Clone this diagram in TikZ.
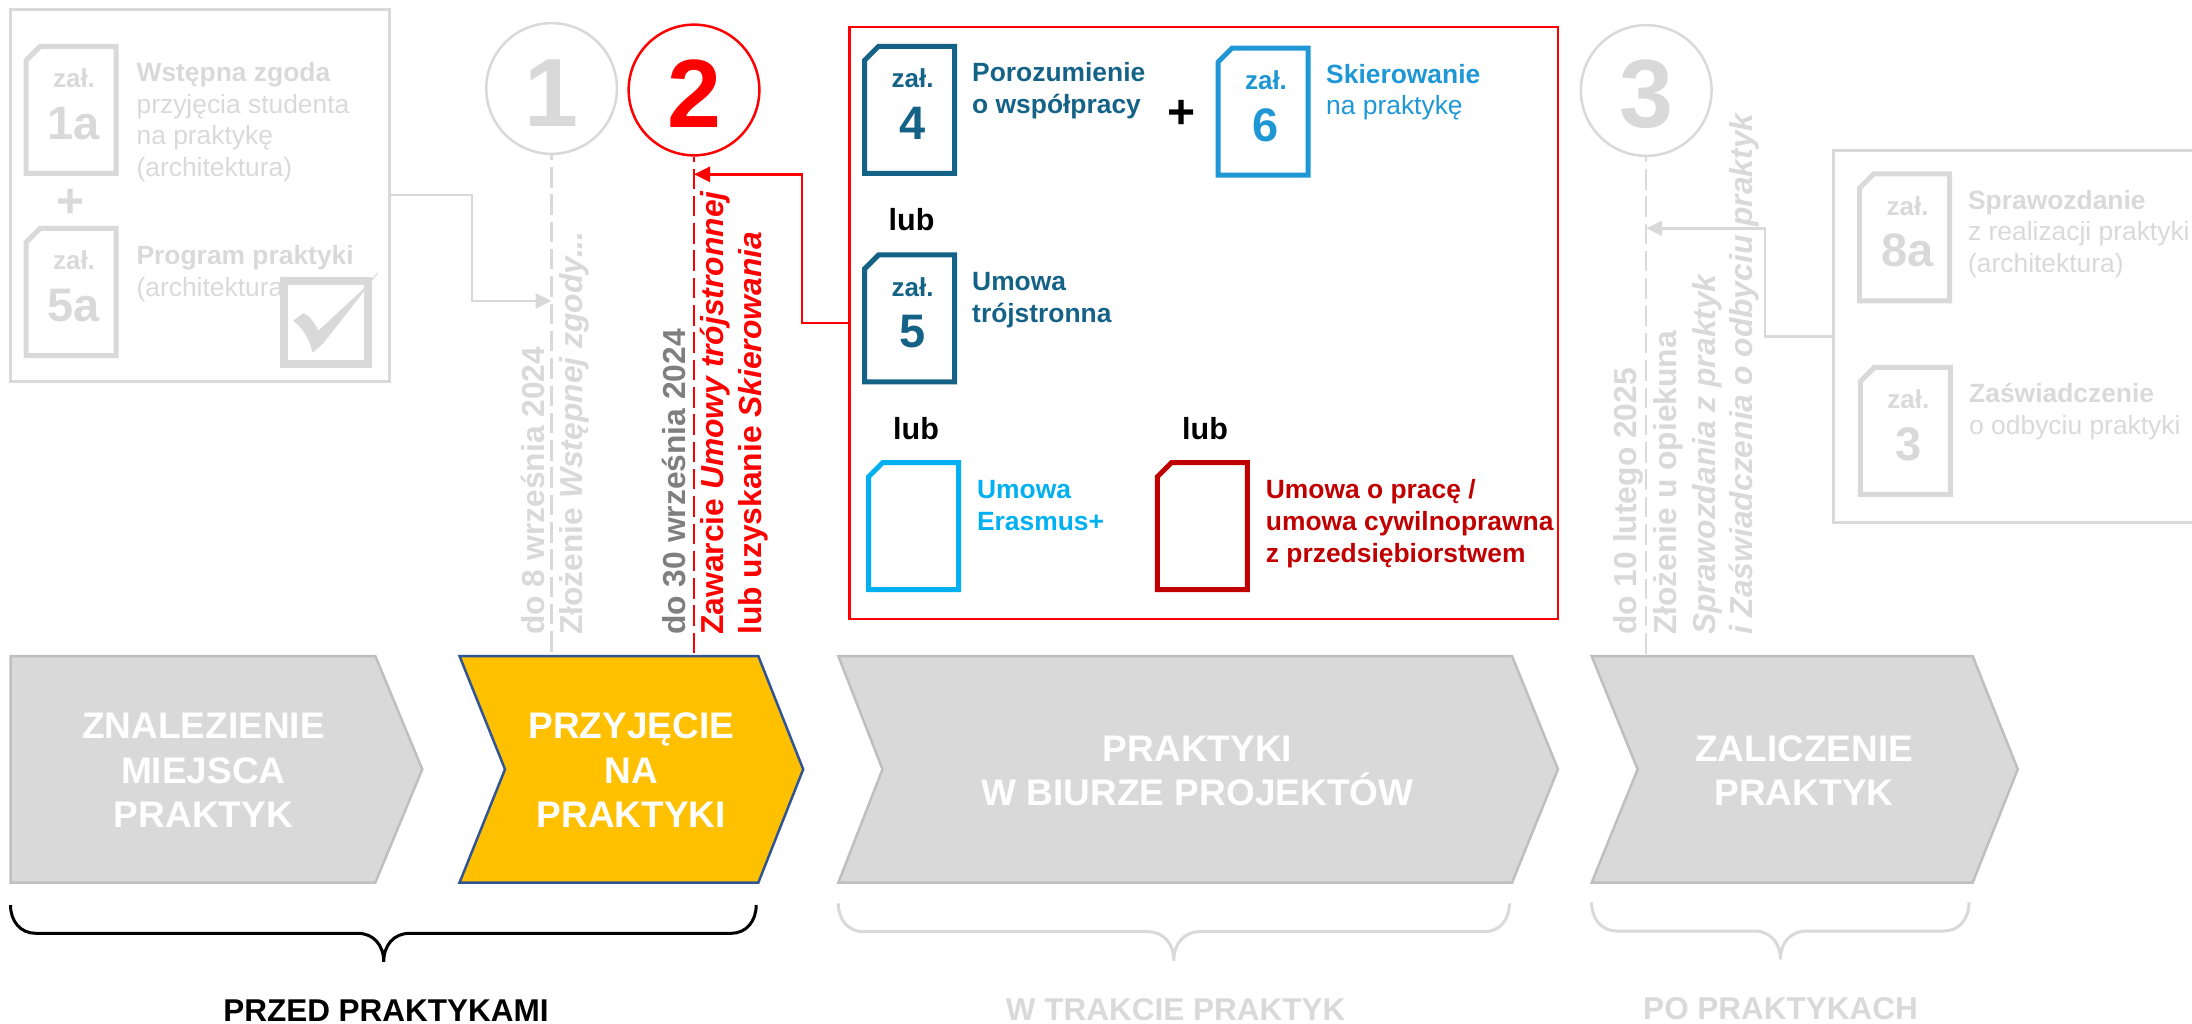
\documentclass[tikz,border=0pt]{standalone}
\usepackage{fontspec}
\setmainfont{Liberation Sans}
\usetikzlibrary{arrows.meta}
\definecolor{lgray}{HTML}{D9D9D9}
\definecolor{mgray}{HTML}{BFBFBF}
\definecolor{dgray}{HTML}{7F7F7F}
\definecolor{zalblue}{HTML}{156287}
\definecolor{skyblue}{HTML}{2097D5}
\definecolor{erasblue}{HTML}{00B0F0}
\definecolor{darkred}{HTML}{C00000}
\definecolor{goldfill}{HTML}{FFC000}
\definecolor{goldline}{HTML}{2F5597}
\newcommand{\docshape}[3]{\draw[docline,draw=#3] (#1-45,#2-49.5) -- (#1-31,#2-63.5) -- (#1+45,#2-63.5) -- (#1+45,#2+63.5) -- (#1-45,#2+63.5) -- cycle;}
\begin{document}
\begin{tikzpicture}[x=1pt,y=-1pt,
  docline/.style={line width=5pt},
  zaltxt/.style={anchor=base,inner sep=0pt,font=\fontsize{26}{30}\selectfont\bfseries},
  numtxt/.style={anchor=base,inner sep=0pt,font=\fontsize{47}{50}\selectfont\bfseries},
  body/.style={anchor=base west,align=left,inner sep=0pt,font=\fontsize{26.4}{31.7}\selectfont},
  lubtxt/.style={anchor=base,inner sep=0pt,font=\fontsize{30.5}{34}\selectfont\bfseries},
  plustxt/.style={inner sep=0pt,font=\fontsize{48}{50}\selectfont\bfseries},
  vert/.style={rotate=90,anchor=base west,inner sep=0pt,font=\fontsize{31.8}{36}\selectfont\bfseries},
  frame/.style={shape=rectangle,draw=lgray,line width=3pt,inner sep=0pt},
  numcircle/.style={shape=circle,draw=lgray,line width=2.5pt,fill=white,minimum size=130.7pt,inner sep=0pt,text height=76pt,font=\fontsize{97}{100}\selectfont\bfseries},
  dashline/.style={draw=lgray,line width=2.5pt,dash pattern=on 20.5pt off 6.8pt,dash phase=15.3pt},
  elbow/.style={draw=lgray,line width=2.5pt,-{Triangle[length=16pt,width=15pt]}},
  chev/.style={fill=lgray,draw=mgray,line width=2.5pt},
  chevtxt/.style={anchor=base,align=center,inner sep=0pt,text=white,font=\fontsize{37}{44.7}\selectfont\bfseries},
  brace/.style={draw=lgray,line width=3pt},
  phase/.style={anchor=base,inner sep=0pt,text=lgray,font=\fontsize{31.5}{34}\selectfont\bfseries}]
  \path[use as bounding box,clip] (0,0) rectangle (2192,1024);

  % frames
  \node[frame,minimum width=378.8pt,minimum height=371.7pt] (lbox) at (200.1,195.2) {};
  \node[frame,minimum width=377pt,minimum height=372pt] (rbox) at (2021.5,336.6) {};
  \node[frame,draw=red,line width=2.5pt,minimum width=708.6pt,minimum height=592pt] (mbox) at (1203.7,323) {};

  % documents
  \foreach \name/\x/\y/\col/\num in {z1a/71/110/lgray/1a,z5a/71/292/lgray/5a,z8a/1904.6/237.5/lgray/8a,z3/1905.4/430.8/lgray/3,z4/909.6/109.8/zalblue/4,z6/1263/111.6/skyblue/6,z5/909.6/318.4/zalblue/5}{
    \docshape{\x}{\y}{\col}
    \node[zaltxt,text=\col] (\name lab) at (\x+3,\y-22) {zał.};
    \node[numtxt,text=\col] (\name num) at (\x+3,\y+29.5) {\num};
  }
  \docshape{913.6}{526.2}{erasblue}
  \docshape{1202.4}{526.2}{darkred}

  % left group
  \node[body,text=lgray] (t1a) at (136.4,176.7) {\textbf{Wstępna zgoda}\\przyjęcia studenta\\na praktykę\\(architektura)};
  \node[plustxt,text=lgray] (plus1) at (71,203) {+};
  \node[body,text=lgray] (t5a) at (136.4,296.7) {\textbf{Program praktyki}\\(architektura)};
  \node[shape=rectangle,draw=lgray,fill=white,line width=8pt,minimum size=83.7pt,inner sep=0pt] (chk) at (326,322.5) {};
  \fill[lgray] (293.3,320.7) -- (303.3,313.3) .. controls (309,315) and (314,322) .. (318.3,330.7) -- (363,289.3) -- (378.3,271.7) -- (376.7,275) -- (323.3,343.3) -- (312.7,352.7) .. controls (308,335) and (302,328) .. (293.3,320.7) -- cycle;

  % middle group
  \node[body,text=zalblue] (t4) at (972,113.7) {\textbf{Porozumienie}\\\textbf{o współpracy}};
  \node[plustxt] (plus2) at (1181.7,114.8) {+};
  \node[body,text=skyblue] (t6) at (1326,115) {\textbf{Skierowanie}\\na praktykę};
  \node[lubtxt] (lub1) at (911.5,230.6) {lub};
  \node[body,text=zalblue] (t5) at (972,322.4) {\textbf{Umowa}\\\textbf{trójstronna}};
  \node[lubtxt] (lub2) at (916,439) {lub};
  \node[lubtxt] (lub3) at (1205,439) {lub};
  \node[body,text=erasblue] (teras) at (976.9,530.5) {\textbf{Umowa}\\\textbf{Erasmus+}};
  \node[body,text=darkred] (tprac) at (1265.7,562) {\textbf{Umowa o pracę /}\\\textbf{umowa cywilnoprawna}\\\textbf{z przedsiębiorstwem}};

  % right group
  \node[body,text=lgray] (t8a) at (1967.9,272.7) {\textbf{Sprawozdanie}\\z realizacji praktyki\\(architektura)};
  \node[body,text=lgray] (t3) at (1969,434.6) {\textbf{Zaświadczenie}\\o odbyciu praktyki};

  % steps
  \coordinate (top1) at (551.6,656);
  \coordinate (top2) at (694,656);
  \coordinate (top3) at (1646.2,656);
  \coordinate (hit1) at (551.6,301);
  \coordinate (hit2) at (694,174.3);
  \coordinate (hit3) at (1646.2,228.3);
  \node[numcircle,text=lgray] (c1) at (551.6,88.5) {1};
  \node[numcircle,draw=red,text=red] (c2) at (694,90) {2};
  \node[numcircle,text=lgray] (c3) at (1646.2,90.5) {3};
  \path[dashline] (c1) -- (top1);
  \path[dashline,draw=red] (c2) -- (top2);
  \path[dashline] (c3) -- (top3);
  \path[elbow] (lbox.east) -- ++(81,0) |- (hit1);
  \path[elbow,draw=red] (mbox.west) -- ++(-46,0) |- (hit2);
  \path[elbow] (rbox.west) -- ++(-66.6,0) |- (hit3);

  % deadlines
  \node[vert,text=lgray] (d1) at (544,635) {do 8 września 2024};
  \node[vert,text=lgray] (n1) at (582.7,635) {Złożenie \textit{Wstępnej zgody...}};
  \node[vert,text=dgray] (d2) at (685,635) {do 30 września 2024};
  \node[vert,text=red] (n2a) at (723,635) {Zawarcie \textit{Umowy trójstronnej}};
  \node[vert,text=red] (n2b) at (761.7,635) {lub uzyskanie \textit{Skierowania}};
  \node[vert,text=lgray] (d3) at (1636.6,635) {do 10 lutego 2025};
  \node[vert,text=lgray] (n3a) at (1676,635) {Złożenie u opiekuna};
  \node[vert,text=lgray] (n3b) at (1715,635) {\textit{Sprawozdania z praktyk}};
  \node[vert,text=lgray] (n3c) at (1752.7,635) {\textit{i Zaświadczenia o odbyciu praktyk}};

  % chevrons
  \draw[chev] (10.5,656) -- (375.3,656) -- (422.3,769.3) -- (375.3,882.7) -- (10.5,882.7) -- cycle;
  \draw[chev,fill=goldfill,draw=goldline] (459.5,656) -- (758.3,656) -- (803.2,769.3) -- (758.3,882.7) -- (459.5,882.7) -- (505,769.3) -- cycle;
  \draw[chev] (838.3,656) -- (1512,656) -- (1558,769.3) -- (1512,882.7) -- (838.3,882.7) -- (882.5,769.3) -- cycle;
  \draw[chev] (1591.6,656) -- (1972.6,656) -- (2017.8,769.3) -- (1972.6,882.7) -- (1591.6,882.7) -- (1637.6,769.3) -- cycle;
  \node[chevtxt] (s1) at (203.4,827.7) {ZNALEZIENIE\\MIEJSCA\\PRAKTYK};
  \node[chevtxt] (s2) at (631.4,827.7) {PRZYJĘCIE\\NA\\PRAKTYKI};
  \node[chevtxt] (s3) at (1197.5,805.7) {PRAKTYKI\\W BIURZE PROJEKTÓW};
  \node[chevtxt] (s4) at (1804,805.7) {ZALICZENIE\\PRAKTYK};

  % braces
  \foreach \xa/\xm/\xb/\ya/\yb/\yc/\col in {10.5/383.7/756.2/905/933.3/961.7/black,838.3/1173.8/1509.5/903.3/931.7/960.7/lgray,1591.6/1780.4/1969/902.3/931/959.3/lgray}{
    \draw[brace,draw=\col] (\xa,\ya) .. controls (\xa,\yb-12) and (\xa+10,\yb) .. (\xa+25,\yb) -- (\xm-26,\yb) .. controls (\xm-10,\yb) and (\xm,\yb+12) .. (\xm,\yc) .. controls (\xm,\yb+12) and (\xm+10,\yb) .. (\xm+26,\yb) -- (\xb-25,\yb) .. controls (\xb-10,\yb) and (\xb,\yb-12) .. (\xb,\ya);
  }
  \node[phase,text=black] (p1) at (386,1021) {PRZED PRAKTYKAMI};
  \node[phase] (p2) at (1175.7,1020) {W TRAKCIE PRAKTYK};
  \node[phase] (p3) at (1780.6,1019.3) {PO PRAKTYKACH};
\end{tikzpicture}
\end{document}
